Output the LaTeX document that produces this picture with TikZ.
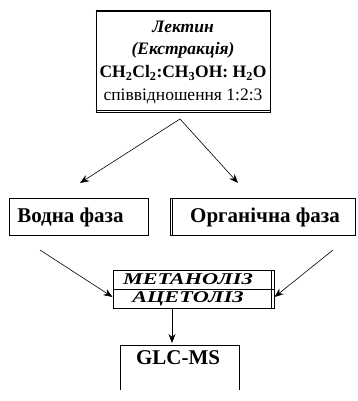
\documentclass[tikz,border=0pt]{standalone}
\usepackage{fontspec}
\setmainfont{Liberation Serif}
\usetikzlibrary{arrows.meta}
\begin{document}
\begin{tikzpicture}[x=1pt,y=-1pt,
  box/.style={draw,line width=1pt,inner sep=0pt},
  arr/.style={-{Stealth[length=9pt,width=7pt]},line width=0.6pt},
  toptxt/.style={font=\fontsize{17.5}{19}\selectfont\bfseries},
  topitx/.style={font=\fontsize{17.5}{19}\selectfont\bfseries\itshape},
  phtxt/.style={font=\fontsize{21}{23}\selectfont\bfseries},
  itx/.style={font=\fontsize{16.5}{17}\selectfont\bfseries\itshape,inner sep=0pt}]
\useasboundingbox (0,0) rectangle (357,401);
% top box
\node[box,minimum width=174pt,minimum height=101pt] (top) at (183,62.5) {};
\draw[line width=2pt] (top.north west) -- (top.north east);
\draw[line width=0.8pt] ([yshift=3pt]top.south west) -- ([yshift=3pt]top.south east);
\node[topitx] (t1) at (183,27) {Лектин};
\node[topitx] (t2) at (183,50) {(Екстракція)};
\node[toptxt] (t3) at (183,73) {CH\textsubscript{2}Cl\textsubscript{2}:CH\textsubscript{3}OH: H\textsubscript{2}O};
\node[font=\fontsize{17.5}{19}\selectfont] (t4) at (183,96) {співвідношення 1:2:3};
% phases
\node[box,minimum width=139pt,minimum height=37pt] (wat) at (78.5,217) {};
\node[phtxt] at (70.5,217) {Водна фаза};
\node[box,minimum width=185pt,minimum height=37pt] (org) at (262.5,217) {};
\node[phtxt] at (265,217) {Органічна фаза};
\draw[line width=0.6pt] ([xshift=3pt]org.north west) -- ([xshift=3pt]org.south west);
\coordinate (apex) at (180,119);
\draw[arr] (apex) -- (80,183);
\draw[arr] (apex) -- (238,183);
% methanolysis box
\node[box,minimum width=161pt,minimum height=38pt] (met) at (193.5,289) {};
\draw[line width=0.6pt] (met.west) -- (met.east);
\draw[line width=0.6pt] ([xshift=-3pt]met.north east) -- ([xshift=-3pt]met.south east);
\node[itx] at (188,279.5) {\scalebox{1.35}[1]{МЕТАНОЛІЗ}};
\node[itx] at (188,298.5) {\scalebox{1.35}[1]{АЦЕТОЛІЗ}};
\coordinate (w1) at (40,250);
\coordinate (o1) at (333,250);
\draw[arr] (w1) -- ([yshift=-8pt]met.west);
\draw[arr] (o1) -- ([yshift=-8pt]met.east);
% GLC-MS
\coordinate (g1) at (120,390);
\coordinate (g2) at (120,345);
\coordinate (g3) at (239,345);
\coordinate (g4) at (239,390);
\draw[line width=1pt] (g1) -- (g2) -- (g3) -- (g4);
\node[phtxt] (glc) at (178,358) {GLC-MS};
\draw[arr] (met.south -| 172,0) -- (172,343);
\end{tikzpicture}
\end{document}
